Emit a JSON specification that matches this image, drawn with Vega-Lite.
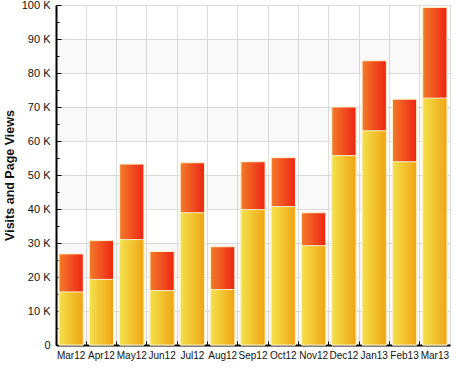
{
  "$schema": "https://vega.github.io/schema/vega-lite/v6.json",
  "width": 394,
  "height": 340,
  "autosize": {"type": "none"},
  "padding": {"left": 56, "top": 5, "right": 6, "bottom": 24},
  "config": {
    "view": {"stroke": "#dddddd", "strokeWidth": 1},
    "font": "Liberation Sans",
    "axis": {"domainColor": "#000000", "domainWidth": 2, "tickColor": "#000000", "labelColor": "#111111", "gridColor": "#dddddd"},
    "axisY": {
      "title": "Visits and Page Views", "titleFontSize": 12.5, "titleFontWeight": "bold", "titleColor": "#111111", "titlePadding": 5,
      "labelFontSize": 11, "labelPadding": 11, "labelOverlap": false, "labelBound": false, "tickWidth": 1, "grid": true
    }
  },
  "datasets": {
    "traffic": [
      {"month": "Mar12", "visits": 15600, "views": 26800},
      {"month": "Apr12", "visits": 19300, "views": 30700},
      {"month": "May12", "visits": 31000, "views": 53200},
      {"month": "Jun12", "visits": 16000, "views": 27500},
      {"month": "Jul12", "visits": 38900, "views": 53600},
      {"month": "Aug12", "visits": 16300, "views": 28900},
      {"month": "Sep12", "visits": 39800, "views": 53900},
      {"month": "Oct12", "visits": 40700, "views": 55100},
      {"month": "Nov12", "visits": 29200, "views": 38900},
      {"month": "Dec12", "visits": 55700, "views": 70000},
      {"month": "Jan13", "visits": 63000, "views": 83600},
      {"month": "Feb13", "visits": 53900, "views": 72300},
      {"month": "Mar13", "visits": 72600, "views": 99300}
    ],
    "bands": [
      {"lo": 0, "hi": 10000},
      {"lo": 20000, "hi": 30000},
      {"lo": 40000, "hi": 50000},
      {"lo": 60000, "hi": 70000},
      {"lo": 80000, "hi": 90000}
    ]
  },
  "layer": [
    {
      "data": {"name": "bands"},
      "mark": {"type": "rect", "color": "#000000", "opacity": 0.025},
      "encoding": {
        "x": {"value": 0},
        "x2": {"value": "width"},
        "y": {
          "field": "lo", "type": "quantitative", "scale": {"domain": [0, 100000], "nice": false},
          "axis": {
            "title": "Visits and Page Views",
            "values": [0, 5000, 10000, 15000, 20000, 25000, 30000, 35000, 40000, 45000, 50000, 55000, 60000, 65000, 70000, 75000, 80000, 85000, 90000, 95000, 100000],
            "labelExpr": "datum.value % 10000 !== 0 ? '' : (datum.value === 0 ? '0' : (datum.value / 1000) + ' K')",
            "labelOverlap": false,
            "tickSize": {"condition": {"test": "datum.value % 10000 === 0", "value": -5}, "value": -3},
            "gridOpacity": {"condition": {"test": "datum.value % 10000 === 0", "value": 1}, "value": 0}
          }
        },
        "y2": {"field": "hi"}
      }
    },
    {
      "data": {"name": "traffic"},
      "mark": {
        "type": "bar",
        "stroke": "#fff2c8",
        "strokeWidth": 1,
        "color": {"gradient": "linear", "x1": 0, "x2": 1, "y1": 0, "y2": 0,
          "stops": [{"offset": 0, "color": "#f27c2a"}, {"offset": 1, "color": "#ee2414"}]}
      },
      "encoding": {
        "x": {
          "field": "month", "type": "ordinal", "sort": null,
          "scale": {"paddingInner": 0.2, "paddingOuter": 0.1},
          "axis": {"title": null, "labelAngle": 0, "labelFontSize": 10, "bandPosition": -0.125, "labelOffset": 0,
            "tickSize": -4, "tickWidth": 1, "labelPadding": 9, "grid": true, "gridColor": "#dddddd"}
        },
        "y": {
          "field": "views", "type": "quantitative",
          "axis": {
            "title": "Visits and Page Views",
            "values": [0, 5000, 10000, 15000, 20000, 25000, 30000, 35000, 40000, 45000, 50000, 55000, 60000, 65000, 70000, 75000, 80000, 85000, 90000, 95000, 100000],
            "labelExpr": "datum.value % 10000 !== 0 ? '' : (datum.value === 0 ? '0' : (datum.value / 1000) + ' K')",
            "labelOverlap": false,
            "tickSize": {"condition": {"test": "datum.value % 10000 === 0", "value": -5}, "value": -3},
            "gridOpacity": {"condition": {"test": "datum.value % 10000 === 0", "value": 1}, "value": 0}
          }
        }
      }
    },
    {
      "data": {"name": "traffic"},
      "mark": {
        "type": "bar",
        "stroke": "#fff2c8",
        "strokeWidth": 1,
        "color": {"gradient": "linear", "x1": 0, "x2": 1, "y1": 0, "y2": 0,
          "stops": [{"offset": 0, "color": "#f3e24c"}, {"offset": 1, "color": "#f0a414"}]}
      },
      "encoding": {
        "x": {"field": "month", "type": "ordinal", "sort": null},
        "y": {
          "field": "visits", "type": "quantitative",
          "axis": {
            "title": "Visits and Page Views",
            "values": [0, 5000, 10000, 15000, 20000, 25000, 30000, 35000, 40000, 45000, 50000, 55000, 60000, 65000, 70000, 75000, 80000, 85000, 90000, 95000, 100000],
            "labelExpr": "datum.value % 10000 !== 0 ? '' : (datum.value === 0 ? '0' : (datum.value / 1000) + ' K')",
            "labelOverlap": false,
            "tickSize": {"condition": {"test": "datum.value % 10000 === 0", "value": -5}, "value": -3},
            "gridOpacity": {"condition": {"test": "datum.value % 10000 === 0", "value": 1}, "value": 0}
          }
        }
      }
    }
  ]
}
